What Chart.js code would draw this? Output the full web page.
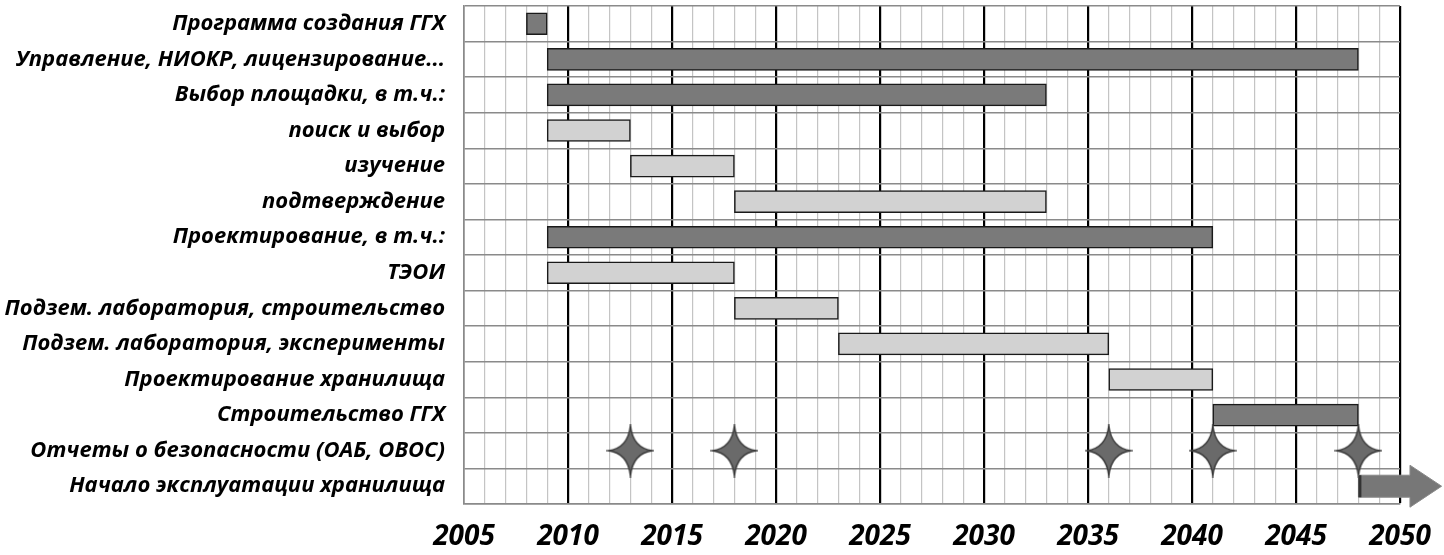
<!DOCTYPE html>
<html>
<head>
<meta charset="utf-8">
<script src="https://cdn.jsdelivr.net/npm/chart.js@4/dist/chart.umd.min.js"></script>
<style>
  html, body { margin: 0; padding: 0; background: #fff; }
  #wrap { width: 1444px; height: 555px; }
</style>
</head>
<body>
<div id="wrap"><canvas id="gantt"></canvas></div>
<script>
// rows, top to bottom
const rowLabels = [
  "Программа создания ГГХ",
  "Управление, НИОКР, лицензирование...",
  "Выбор площадки, в т.ч.:",
  "поиск и выбор",
  "изучение",
  "подтверждение",
  "Проектирование, в т.ч.:",
  "ТЭОИ",
  "Подзем. лаборатория, строительство",
  "Подзем. лаборатория, эксперименты",
  "Проектирование хранилища",
  "Строительство ГГХ",
  "Отчеты о безопасности (ОАБ, ОВОС)",
  "Начало эксплуатации хранилища"
];
// dark (main) phases [start, end]
const darkBars = [
  [2008, 2009], [2009, 2048], [2009, 2033], null, null, null,
  [2009, 2041], null, null, null, null, [2041, 2048], null, null
];
// light (sub) phases [start, end]
const lightBars = [
  null, null, null, [2009, 2013], [2013, 2018], [2018, 2033],
  null, [2009, 2018], [2018, 2023], [2023, 2036], [2036, 2041], null, null, null
];
// safety reports (stars)
const reportYears = [2013, 2018, 2036, 2041, 2048];
// operation start arrow
const launchFrom = 2048;
const launchTo = 2052;

const yearMin = 2005, yearMax = 2050;

function makeStar() {
  const c = document.createElement('canvas');
  c.width = 48; c.height = 54;
  const g = c.getContext('2d');
  const cx = 24, cy = 27, rx = 22, ry = 25, k = 2.5;
  g.beginPath();
  g.moveTo(cx, cy - ry);
  g.quadraticCurveTo(cx + k, cy - k, cx + rx, cy);
  g.quadraticCurveTo(cx + k, cy + k, cx, cy + ry);
  g.quadraticCurveTo(cx - k, cy + k, cx - rx, cy);
  g.quadraticCurveTo(cx - k, cy - k, cx, cy - ry);
  g.closePath();
  g.fillStyle = '#6a6a6a';
  g.fill();
  g.lineWidth = 1.5;
  g.strokeStyle = '#3a3a3a';
  g.stroke();
  return c;
}

const arrowPlugin = {
  id: 'launchArrow',
  afterDatasetsDraw(chart) {
    const x = chart.scales.x, y = chart.scales.y;
    const ctx = chart.ctx;
    const row = rowLabels.length - 1;
    const cy = y.getPixelForValue(row);
    const x0 = x.getPixelForValue(launchFrom);
    const x2 = x.getPixelForValue(launchTo);
    const x1 = x2 - (x2 - x0) * 0.38;
    const bh = 11, hh = 21;
    ctx.save();
    ctx.beginPath();
    ctx.moveTo(x0, cy - bh);
    ctx.lineTo(x1, cy - bh);
    ctx.lineTo(x1, cy - hh);
    ctx.lineTo(x2, cy);
    ctx.lineTo(x1, cy + hh);
    ctx.lineTo(x1, cy + bh);
    ctx.lineTo(x0, cy + bh);
    ctx.closePath();
    ctx.fillStyle = '#777777';
    ctx.fill();
    ctx.strokeStyle = '#8a8a8a';
    ctx.lineWidth = 1;
    ctx.stroke();
    ctx.fillStyle = '#333';
    ctx.fillRect(x0, cy - bh, 3, bh * 2);
    ctx.restore();
  }
};

const starImg = makeStar();
const reportRow = rowLabels[12];

new Chart(document.getElementById('gantt'), {
  type: 'bar',
  data: {
    labels: rowLabels,
    datasets: [
      {
        label: 'main',
        data: darkBars,
        backgroundColor: '#7a7a7a',
        borderColor: '#1a1a1a',
        borderWidth: 1.5,
        borderSkipped: false,
        barThickness: 22,
        grouped: false,
        order: 2
      },
      {
        label: 'sub',
        data: lightBars,
        backgroundColor: '#d2d2d2',
        borderColor: '#1a1a1a',
        borderWidth: 1.5,
        borderSkipped: false,
        barThickness: 22,
        grouped: false,
        order: 2
      },
      {
        type: 'line',
        label: 'reports',
        data: reportYears.map(v => ({ x: v, y: reportRow })),
        showLine: false,
        pointStyle: starImg,
        clip: false,
        order: 1
      }
    ]
  },
  options: {
    indexAxis: 'y',
    responsive: true,
    maintainAspectRatio: false,
    animation: false,
    layout: { padding: { left: 0, right: 44, top: 6, bottom: 0 } },
    plugins: { legend: { display: false }, tooltip: { enabled: false } },
    scales: {
      x: {
        type: 'linear',
        min: yearMin,
        max: yearMax,
        afterFit(s) { s.height = 51; s.paddingLeft = 0; s.paddingRight = 0; },
        border: { display: true, color: '#8a8a8a', width: 1.5 },
        grid: {
          drawTicks: false,
          color(c) {
            const v = c.tick.value;
            if (v === yearMin) return '#8a8a8a';
            return v % 5 === 0 ? '#000000' : '#c4c4c4';
          },
          lineWidth(c) {
            const v = c.tick.value;
            if (v === yearMin) return 1.5;
            return v % 5 === 0 ? 2.2 : 1.2;
          }
        },
        ticks: {
          stepSize: 1,
          autoSkip: false,
          maxRotation: 0,
          padding: 16,
          color: '#000',
          font: { family: 'Open Sans', size: 28, weight: 'bold', style: 'italic' },
          callback(v) { return v % 5 === 0 ? String(v) : ''; }
        }
      },
      y: {
        type: 'category',
        afterFit(s) { s.width = 464; s.paddingTop = 0; s.paddingBottom = 0; },
        border: { display: true, color: '#8a8a8a', width: 1.5 },
        grid: {
          offset: true,
          drawTicks: false,
          color: '#8a8a8a',
          lineWidth: 1.5
        },
        ticks: {
          padding: 19,
          color: '#000',
          font: { family: 'Open Sans', size: 22, weight: 'bold', style: 'italic' }
        }
      }
    }
  },
  plugins: [arrowPlugin]
});
</script>
</body>
</html>
